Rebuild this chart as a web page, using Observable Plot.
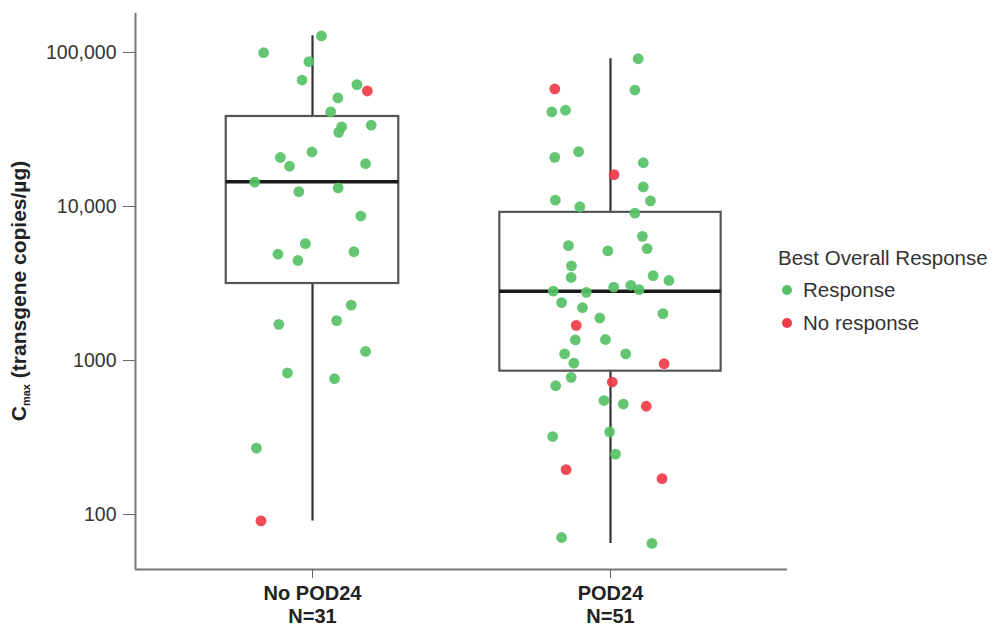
<!DOCTYPE html>
<html>
<head>
<meta charset="utf-8">
<script src="https://cdn.jsdelivr.net/npm/d3@7"></script>
<script src="https://cdn.jsdelivr.net/npm/@observablehq/plot@0.6"></script>
<style>
  body { margin: 0; background: #fff; font-family: "Liberation Sans", Arial, sans-serif; }
  #wrap { position: relative; width: 995px; height: 629px; overflow: hidden; }
  #legend { position: absolute; left: 778px; top: 246px; color: #333; font-size: 20.5px; }
  #legend .title { line-height: 24px; margin-bottom: 3px; }
  #legend .row { display: flex; align-items: center; height: 33px; }
  #legend .sw { width: 10px; height: 10px; border-radius: 50%; margin-left: 4px; margin-right: 11px; }
</style>
</head>
<body>
<div id="wrap"><div id="chart"></div><div id="legend"></div></div>
<script>
// ---- data ----
const groups = ["No POD24", "POD24"];
const groupN = ["N=31", "N=51"];
const responseLevels = ["Response", "No response"];
const responseColors = ["#57c166", "#ef3c48"];
const yTicks = [100, 1000, 10000, 100000];

// No POD24 patients: Cmax, horizontal jitter (fraction of group spacing), non-responders (indices)
const noPodCmax = [128200, 99600, 87100, 66200, 61800, 56200, 50700, 41100, 32900, 30300, 33700,
  22600, 20800, 18250, 18960, 14390, 12500, 13210, 8670, 5740, 4900, 4460, 5090, 2290, 1816, 1718,
  1146, 832, 762, 270, 91];
const noPodJitter = [0.030, -0.164, -0.012, -0.035, 0.149, 0.184, 0.085, 0.061, 0.098, 0.088, 0.197,
  -0.002, -0.108, -0.077, 0.178, -0.194, -0.046, 0.086, 0.162, -0.024, -0.116, -0.049, 0.139, 0.130,
  0.081, -0.113, 0.178, -0.084, 0.074, -0.188, -0.173];
const noPodNoResponse = [5, 30];

// POD24 patients
const podCmax = [91000, 57950, 57000, 41100, 42170, 20850, 22700, 19230, 16100, 13400, 10990, 10880,
  9960, 9050, 6400, 5570, 5150, 5330, 4120, 3460, 3560, 3310, 2825, 2770, 2995, 3080, 2885, 2377, 2205,
  1888, 2015, 1693, 1362, 1369, 1104, 1104, 962, 953, 778, 686, 725, 550, 522, 505, 321, 344, 247, 196,
  171, 71, 65];
const podJitter = [0.093, -0.187, 0.082, -0.197, -0.151, -0.187, -0.107, 0.110, 0.012, 0.110, -0.185,
  0.134, -0.103, 0.082, 0.107, -0.141, -0.009, 0.123, -0.131, -0.132, 0.143, 0.196, -0.192, -0.081,
  0.011, 0.068, 0.096, -0.164, -0.094, -0.036, 0.176, -0.115, -0.118, -0.017, -0.154, 0.051, -0.123,
  0.180, -0.132, -0.184, 0.006, -0.022, 0.043, 0.120, -0.194, -0.003, 0.017, -0.149, 0.173, -0.164, 0.139];
const podNoResponse = [1, 8, 31, 37, 40, 43, 47, 48];

// box summaries
const boxQ1 = [3162, 853];
const boxMedian = [14500, 2818];
const boxQ3 = [38400, 9160];

// ---- build tables ----
const groupCmax = [noPodCmax, podCmax];
const groupJitter = [noPodJitter, podJitter];
const groupNoResp = [noPodNoResponse, podNoResponse];

const points = [];
groupCmax.forEach((vals, g) => {
  vals.forEach((v, i) => {
    points.push({
      pos: g + 1,
      jitter: groupJitter[g][i],
      cmax: v,
      bor: groupNoResp[g].includes(i) ? responseLevels[1] : responseLevels[0]
    });
  });
});

const boxes = groups.map((name, g) => ({
  pos: g + 1,
  hw: 0.052 * Math.sqrt(groupCmax[g].length),   // variable width ~ sqrt(n)
  min: d3.min(groupCmax[g]),
  max: d3.max(groupCmax[g]),
  q1: boxQ1[g],
  median: boxMedian[g],
  q3: boxQ3[g]
}));

const xDomain = [1 - 0.594, 2 + 0.594];
const yDomain = [44, 179000];

const fmt = d3.format(",");
const chart = Plot.plot({
  width: 790,
  height: 629,
  marginLeft: 135,
  marginRight: 3,
  marginTop: 13,
  marginBottom: 60,
  style: { fontFamily: "'Liberation Sans', Arial, sans-serif", fontSize: "19.5px", color: "#333", background: "white", overflow: "visible" },
  x: { type: "linear", domain: xDomain, axis: null },
  y: { type: "log", domain: yDomain, axis: null },
  color: { domain: responseLevels, range: responseColors },
  marks: [
    Plot.ruleX(boxes, { x: "pos", y1: "min", y2: "max", stroke: "#333", strokeWidth: 2.2 }),
    Plot.rect(boxes, { x1: d => d.pos - d.hw, x2: d => d.pos + d.hw, y1: "q1", y2: "q3", fill: "white", stroke: "#555", strokeWidth: 2.2 }),
    Plot.ruleY(boxes, { y: "median", x1: d => d.pos - d.hw, x2: d => d.pos + d.hw, stroke: "#1a1a1a", strokeWidth: 3.5 }),
    Plot.dot(points, { x: d => d.pos + d.jitter, y: "cmax", fill: "bor", r: 5.4, fillOpacity: 0.92 }),
    Plot.ruleX([xDomain[0]], { stroke: "#777", strokeWidth: 2 }),
    Plot.ruleY([yDomain[0]], { stroke: "#777", strokeWidth: 2 }),
    Plot.axisY({ ticks: yTicks, tickFormat: d => d >= 10000 ? fmt(d) : String(d), tickSize: 12, tickPadding: 7, stroke: "#666", fill: "#333", fontSize: 19.5, label: null }),
    Plot.axisX({ ticks: [1, 2], tickFormat: d => groups[d - 1] + "\n" + groupN[d - 1], tickSize: 9, tickPadding: 5, stroke: "#666", fill: "#222", fontWeight: "bold", fontSize: 20, lineHeight: 1.15, label: null })
  ]
});
document.getElementById("chart").appendChild(chart);

// y-axis title with subscript
const svg = d3.select(chart.tagName.toLowerCase() === "svg" ? chart : chart.querySelector("svg"));
const yl = svg.append("text")
  .attr("transform", "translate(26,291) rotate(-90)")
  .attr("text-anchor", "middle")
  .attr("font-weight", "bold")
  .attr("font-size", 21)
  .attr("fill", "#222");
yl.append("tspan").text("C");
yl.append("tspan").attr("font-size", 11).attr("dy", 4).text("max");
yl.append("tspan").attr("dy", -4).text(" (transgene copies/µg)");

// legend
const legend = d3.select("#legend");
legend.append("div").attr("class", "title").text("Best Overall Response");
responseLevels.forEach((lvl, i) => {
  const row = legend.append("div").attr("class", "row");
  row.append("span").attr("class", "sw").style("background", responseColors[i]);
  row.append("span").text(lvl);
});
</script>
</body>
</html>
